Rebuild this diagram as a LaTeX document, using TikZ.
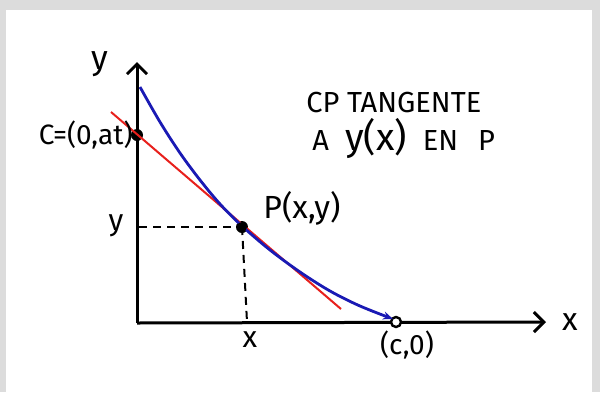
\documentclass[tikz,border=0pt]{standalone}
\usepackage{fontspec}
\setmainfont{Fira Sans}
\usetikzlibrary{arrows.meta}
\definecolor{framegrey}{HTML}{DCDCDC}
\definecolor{tanred}{HTML}{E8201C}
\definecolor{curveblue}{HTML}{1A1AB4}
\tikzset{
  axis/.style={line width=1.5pt, -{Straight Barb[length=5pt,width=10pt,line width=1.5pt]}},
  guide/.style={line width=1pt, dash pattern=on 4pt off 3pt},
  dotnode/.style={circle, fill=black, inner sep=0pt, minimum size=6pt},
  lab/.style={inner sep=0pt, text=black},
}
\begin{document}
\begin{tikzpicture}[x=0.5pt,y=-0.5pt]
\useasboundingbox (0,0) rectangle (600,392);
\fill[framegrey] (0,0) rectangle (600,392);
\fill[white] (6,10) rectangle (592,392);
% axes
\coordinate (O) at (137,323);
\coordinate (ytip) at (137,62);
\coordinate (xtip) at (546,322);
\draw[axis] (O) -- (ytip);
\draw[axis] (O) -- (xtip);
% points
\node[dotnode] (C) at (137,135) {};
\node[dotnode] (P) at (242,227) {};
\node[circle, draw=black, fill=white, line width=1.2pt, inner sep=0pt, minimum size=5pt] (c0) at (396,322) {};
% dashed guides
\coordinate (yfoot) at (139,227);
\coordinate (xfoot) at (247,322);
\draw[guide] (yfoot) -- (P.center);
\draw[guide] (P.center) -- (xfoot);
% tangent line
\coordinate (r1) at (111,112);
\coordinate (r2) at (341,309);
\draw[tanred, line width=1pt] (r1) -- (r2);
% curve
\draw[curveblue, line width=1.4pt, -{Stealth[length=5pt,width=4pt]}] plot[smooth, tension=0.55] coordinates {(140,87) (160,122) (180,153) (200,180) (220,204) (242,226) (270,250) (300,272) (330,291) (360,306) (393,319)};
\node[dotnode, minimum size=5pt] at (P) {};
% labels
\node[lab, font=\fontsize{17}{17}\selectfont] (ylab) at (100,64) {y};
\node[lab, font=\fontsize{16}{16}\selectfont] (xlab) at (570,322) {x};
\node[lab, font=\fontsize{14}{14}\selectfont, anchor=east] (Clab) at (133,135) {C=(0,at)};
\node[lab, font=\fontsize{16}{16}\selectfont] (Plab) at (302,208) {P(x,y)};
\node[lab, font=\fontsize{15}{15}\selectfont] (yval) at (116,226) {y};
\node[lab, font=\fontsize{15}{15}\selectfont] (xval) at (250,340) {x};
\node[lab, font=\fontsize{14}{14}\selectfont] (c0lab) at (407,345) {(c,0)};
\node[lab, font=\fontsize{14.5}{14.5}\selectfont, anchor=west] (t1) at (306,103) {CP TANGENTE};
\node[lab, font=\fontsize{14.5}{14.5}\selectfont, anchor=west] (t2) at (312,138) {A\hspace{8pt}{\fontsize{19}{19}\selectfont y(x)}\hspace{8pt}EN\hspace{10pt}P};
\end{tikzpicture}
\end{document}
